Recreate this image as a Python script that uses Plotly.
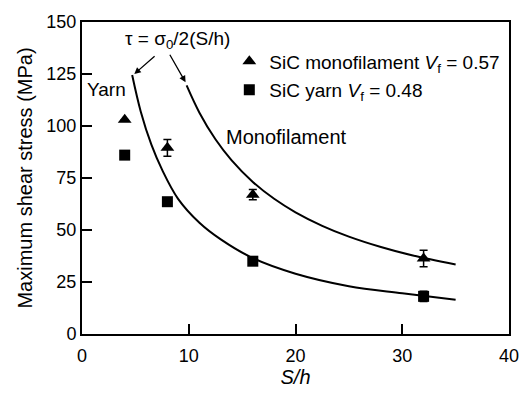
import plotly.graph_objects as go

# ---- data ----
sh_points = [4, 8, 16, 32]
mono_tau = [103, 89.5, 67, 36.3]
mono_err = [0, 4, 2.5, 4]
yarn_tau = [86, 63.6, 35, 18.1]
yarn_err = [0, 0, 0, 2.5]

# theoretical curves tau = sigma0 / 2(S/h)
yarn_curve_x = [4.7, 5.5, 6.5, 7.5, 9, 11, 13, 16, 20, 25, 30, 35]
yarn_curve_y = [124.5, 107, 91, 79, 65, 53.5, 45.5, 36.5, 29, 23, 19.6, 16.5]
mono_curve_x = [9.8, 11, 12.5, 14, 16, 18, 20, 22.5, 25, 28, 31, 35]
mono_curve_y = [119.5, 106.4, 93.6, 83.6, 73.1, 65, 58.5, 52, 46.8, 41.8, 37.7, 33.4]

x_ticks = [0, 10, 20, 30, 40]
y_ticks = [0, 25, 50, 75, 100, 125, 150]

FONT = "Liberation Sans, Arial, sans-serif"

fig = go.Figure()

fig.add_trace(go.Scatter(x=yarn_curve_x, y=yarn_curve_y, mode="lines",
                         line=dict(color="black", width=2, shape="spline", smoothing=1),
                         showlegend=False, hoverinfo="skip"))
fig.add_trace(go.Scatter(x=mono_curve_x, y=mono_curve_y, mode="lines",
                         line=dict(color="black", width=2, shape="spline", smoothing=1),
                         showlegend=False, hoverinfo="skip"))

fig.add_trace(go.Scatter(
    x=sh_points, y=mono_tau, mode="markers",
    name="SiC monofilament <i>V</i><sub>f</sub> = 0.57",
    marker=dict(symbol="triangle-up", size=12, color="black"),
    error_y=dict(type="data", array=mono_err, visible=True, color="black",
                 thickness=1.5, width=4),
    legendgroup="a"))
fig.add_trace(go.Scatter(
    x=sh_points, y=yarn_tau, mode="markers",
    name="SiC yarn <i>V</i><sub>f</sub> = 0.48",
    marker=dict(symbol="square", size=11, color="black"),
    error_y=dict(type="data", array=yarn_err, visible=True, color="black",
                 thickness=1.5, width=4),
    legendgroup="b"))

annots = [
    dict(x=8.9, y=141.2, text="τ = σ<sub>0</sub>/2(S/h)", showarrow=False,
         font=dict(size=19)),
    dict(x=2.3, y=117.5, text="Yarn", showarrow=False, font=dict(size=19)),
    dict(x=19.2, y=94.7, text="Monofilament", showarrow=False, font=dict(size=20)),
    dict(x=4.9, y=125, ax=6.94, ay=134.2, axref="x", ayref="y", text="",
         showarrow=True, arrowhead=2, arrowsize=1, arrowwidth=1.3,
         arrowcolor="black"),
    dict(x=9.7, y=121, ax=8.15, ay=135, axref="x", ayref="y", text="",
         showarrow=True, arrowhead=2, arrowsize=1, arrowwidth=1.3,
         arrowcolor="black"),
]

axis_common = dict(showline=True, linecolor="black", linewidth=2, mirror=True,
                   ticks="inside", ticklen=10, tickwidth=1.5, tickcolor="black",
                   showgrid=False, zeroline=False,
                   tickfont=dict(size=18, color="black"))

fig.update_layout(
    width=531, height=394,
    margin=dict(l=82, r=17, t=18, b=53),
    paper_bgcolor="white", plot_bgcolor="white",
    font=dict(family=FONT, color="black"),
    showlegend=True,
    legend=dict(x=0.345, y=0.935, xanchor="left", yanchor="top",
                bgcolor="rgba(0,0,0,0)", font=dict(size=19),
                traceorder="grouped", tracegroupgap=1, itemwidth=30),
    annotations=annots,
    xaxis=dict(range=[0, 40], tickvals=x_ticks, ticklabelstandoff=4,
               title=dict(text="<i>S/h</i>", font=dict(size=20), standoff=2),
               **axis_common),
    yaxis=dict(range=[0, 150], tickvals=y_ticks,
               title=dict(text="Maximum shear stress (MPa)", font=dict(size=20),
                          standoff=8),
               **axis_common),
)

fig.write_html("out.html")
